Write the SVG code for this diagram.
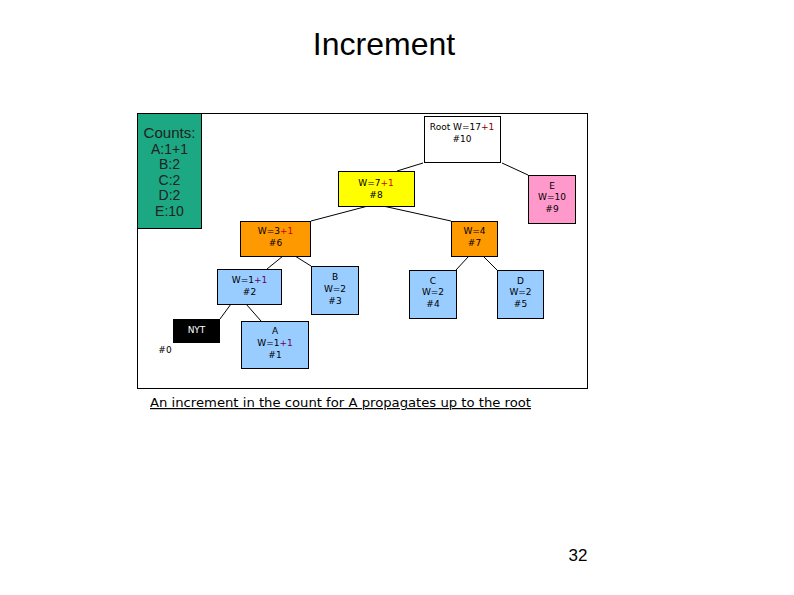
<svg xmlns="http://www.w3.org/2000/svg" width="794" height="595" viewBox="0 0 794 595">
<style>
.n{stroke:#000;stroke-width:1}
.t{font-family:"DejaVu Sans","Liberation Sans",sans-serif;font-size:9px;text-anchor:middle;fill:#000}
.c{font-family:"Liberation Sans",Arial,sans-serif;font-size:14px;text-anchor:middle;fill:#222}
.r{fill:#cc0000}
.p{fill:#660066}
.d{fill:#800000}
.e{stroke:#000;stroke-width:1;fill:none}
</style>
<rect width="794" height="595" fill="#fff"/>
<text x="384" y="55" font-family="Liberation Sans,Arial,sans-serif" font-size="32" text-anchor="middle">Increment</text>
<rect id="frame" x="137.5" y="113.5" width="450" height="275" fill="#fff" stroke="#000"/>
<g id="counts">
<rect x="137.5" y="113.5" width="64" height="115" fill="#1BA882" stroke="#000"/>
<text class="c" x="169.5" y="138" textLength="52" lengthAdjust="spacingAndGlyphs">Counts:</text>
<text class="c" x="169.5" y="153.5">A:1+1</text>
<text class="c" x="169.5" y="169">B:2</text>
<text class="c" x="169.5" y="185">C:2</text>
<text class="c" x="169.5" y="200">D:2</text>
<text class="c" x="169.5" y="216">E:10</text>
</g>
<g id="connectors">
<line class="e" x1="423" y1="163" x2="397" y2="171"/>
<line class="e" x1="502" y1="163" x2="528" y2="175"/>
<line class="e" x1="368" y1="206" x2="311" y2="221"/>
<line class="e" x1="383" y1="206" x2="451" y2="221"/>
<line class="e" x1="283" y1="256" x2="267" y2="269"/>
<line class="e" x1="295" y1="256" x2="311" y2="266"/>
<line class="e" x1="468" y1="257" x2="456" y2="270"/>
<line class="e" x1="484" y1="257" x2="497" y2="270"/>
<line class="e" x1="231" y1="304" x2="220" y2="319"/>
<line class="e" x1="246" y1="304" x2="261" y2="321"/>
</g>
<g id="n10">
<rect class="n" x="424.5" y="116.5" width="76" height="46" fill="#fff"/>
<text class="t" x="462" y="129.5">Root W=17<tspan class="d">+1</tspan></text>
<text class="t" x="462" y="141.5">#10</text>
</g>
<g id="n8">
<rect class="n" x="338.5" y="171.5" width="76" height="35" fill="#FFFF00"/>
<text class="t" x="376" y="185.5">W=7<tspan class="r">+1</tspan></text>
<text class="t" x="376" y="197.5">#8</text>
</g>
<g id="n9">
<rect class="n" x="528.5" y="175.5" width="47" height="48" fill="#FF99CC"/>
<text class="t" x="552" y="188.5">E</text>
<text class="t" x="552" y="200">W=10</text>
<text class="t" x="552" y="211.5">#9</text>
</g>
<g id="n6">
<rect class="n" x="240.5" y="221.5" width="70" height="35" fill="#FF9900"/>
<text class="t" x="275.5" y="233.5">W=3<tspan class="r">+1</tspan></text>
<text class="t" x="275.5" y="245.5">#6</text>
</g>
<g id="n7">
<rect class="n" x="451.5" y="221.5" width="46" height="35" fill="#FF9900"/>
<text class="t" x="474.5" y="233.5">W=4</text>
<text class="t" x="474.5" y="246">#7</text>
</g>
<g id="n2">
<rect class="n" x="217.5" y="269.5" width="64" height="35" fill="#99CCFF"/>
<text class="t" x="249.5" y="282.5">W=1<tspan class="p">+1</tspan></text>
<text class="t" x="249.5" y="295">#2</text>
</g>
<g id="n3">
<rect class="n" x="311.5" y="266.5" width="47" height="48" fill="#99CCFF"/>
<text class="t" x="335" y="280">B</text>
<text class="t" x="335" y="292">W=2</text>
<text class="t" x="335" y="303.5">#3</text>
</g>
<g id="n4">
<rect class="n" x="409.5" y="270.5" width="47" height="48" fill="#99CCFF"/>
<text class="t" x="433" y="283.5">C</text>
<text class="t" x="433" y="295">W=2</text>
<text class="t" x="433" y="307">#4</text>
</g>
<g id="n5">
<rect class="n" x="497.5" y="270.5" width="46" height="48" fill="#99CCFF"/>
<text class="t" x="520.5" y="283.5">D</text>
<text class="t" x="520.5" y="295">W=2</text>
<text class="t" x="520.5" y="307">#5</text>
</g>
<g id="n0">
<rect class="n" x="173.5" y="319.5" width="46" height="23" fill="#000"/>
<text class="t" x="196.5" y="333" style="fill:#fff">NYT</text>
<text class="t" x="165" y="352.5">#0</text>
</g>
<g id="n1">
<rect class="n" x="241.5" y="321.5" width="67" height="47" fill="#99CCFF"/>
<text class="t" x="275" y="334">A</text>
<text class="t" x="275" y="345.5">W=1<tspan class="p">+1</tspan></text>
<text class="t" x="275" y="357.5">#1</text>
</g>
<text x="150" y="407" font-family="DejaVu Sans,sans-serif" font-size="12" textLength="381" lengthAdjust="spacingAndGlyphs" text-decoration="underline">An increment in the count for A propagates up to the root</text>
<text x="578" y="561" font-family="Liberation Sans,Arial,sans-serif" font-size="17" text-anchor="middle">32</text>
</svg>
